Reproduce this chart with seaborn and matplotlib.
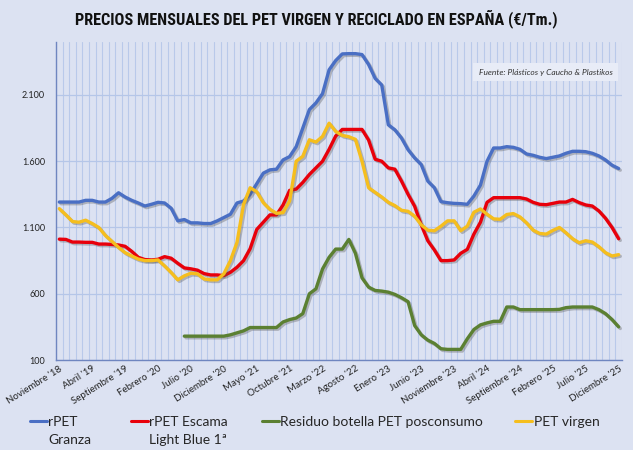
import numpy as np
import pandas as pd
import matplotlib
matplotlib.use("Agg")
import matplotlib.pyplot as plt
import matplotlib.patheffects as pe
from matplotlib.lines import Line2D
from matplotlib.ticker import FuncFormatter
import seaborn as sns

# etiquetas del eje X (cada 5 meses, desde Nov '18 hasta Dic '25)
etiquetas = ["Noviembre '18", "Abril '19", "Septiembre '19", "Febrero '20", "Julio '20",
             "Diciembre '20", "Mayo '21", "Octubre '21", "Marzo '22", "Agosto '22",
             "Enero '23", "Junio '23", "Noviembre '23", "Abril '24", "Septiembre '24",
             "Febrero '25", "Julio '25", "Diciembre '25"]

# precios mensuales (€/Tm), Nov '18 ... Dic '25
granza = [1292, 1292, 1292, 1292, 1305, 1305, 1292, 1292, 1320, 1362, 1330, 1305, 1285, 1262, 1275, 1290,
          1285, 1245, 1150, 1160, 1135, 1135,
          1130, 1130, 1150, 1175, 1200, 1285, 1300, 1350, 1430, 1510, 1535, 1540, 1610, 1635, 1710, 1850,
          1990, 2040, 2110, 2290, 2360, 2410,
          2412, 2412, 2405, 2330, 2225, 2175, 1875, 1837, 1775, 1687, 1625, 1575, 1450, 1400, 1295, 1287,
          1282, 1280, 1275, 1337, 1420, 1600,
          1700, 1700, 1710, 1705, 1690, 1655, 1645, 1630, 1620, 1630, 1640, 1660, 1675, 1675, 1672, 1660,
          1640, 1610, 1570, 1545]

escama = [1012, 1010, 990, 990, 988, 988, 975, 975, 972, 968, 958, 920, 875, 858, 855, 860,
          880, 868, 830, 795, 788, 778,
          752, 742, 742, 737, 762, 800, 850, 940, 1085, 1140, 1195, 1195, 1270, 1380, 1390, 1440,
          1500, 1550, 1600, 1690, 1790, 1840,
          1840, 1840, 1840, 1760, 1615, 1600, 1550, 1540, 1450, 1350, 1260, 1120, 1000, 930, 850, 850,
          855, 905, 935, 1050, 1140, 1290,
          1325, 1325, 1325, 1325, 1325, 1315, 1290, 1275, 1272, 1282, 1292, 1292, 1312, 1288, 1270, 1262,
          1225, 1170, 1100, 1015]

residuo = [np.nan] * 19 + [
          280, 280, 280, 280, 280, 280, 280, 290, 305, 320, 345, 345, 345, 345, 345, 387,
          405, 417, 450, 600, 637, 787, 875, 937, 937,
          1010, 905, 720, 650, 625, 620, 612, 595, 570, 540, 360, 290, 250, 225, 185, 180,
          180, 180, 260, 330, 365, 380,
          392, 392, 500, 500, 480, 480, 480, 480, 480, 480, 482, 495, 500, 500, 500, 500,
          480, 450, 405, 350]

virgen = [1242, 1195, 1145, 1140, 1155, 1130, 1100, 1040, 995, 950, 910, 885, 862, 850, 850, 855,
          810, 760, 705, 735, 755, 750,
          712, 705, 705, 750, 850, 987, 1275, 1400, 1370, 1287, 1237, 1207, 1212, 1300, 1600, 1637,
          1762, 1745, 1787, 1887, 1825, 1795,
          1785, 1765, 1600, 1400, 1365, 1330, 1290, 1265, 1230, 1222, 1185, 1120, 1080, 1075, 1110, 1150,
          1150, 1075, 1110, 1215, 1240, 1200,
          1165, 1162, 1198, 1205, 1180, 1135, 1080, 1055, 1050, 1078, 1100, 1060, 1015, 985, 1000, 990,
          955, 910, 885, 895]

nombres = ["rPET", "rPET Escama", "Residuo botella PET posconsumo", "PET virgen"]
segunda_linea = ["Granza", "Light Blue 1ª", "", ""]
valores = [granza, escama, residuo, virgen]
colores = ["#4A6FC4", "#E8000B", "#5B8032", "#F5BE1E"]

n = len(granza)
df = pd.concat([pd.DataFrame({"mes": np.arange(n), "precio": v, "serie": k + " " + s})
                for k, s, v in zip(nombres, segunda_linea, valores)], ignore_index=True)

fondo = "#DCE2F2"
sns.set_theme(style="white")
plt.rcParams["font.family"] = ["Lato", "DejaVu Sans"]

fig = plt.figure(figsize=(6.33, 4.5), dpi=100, facecolor=fondo)
ax = fig.add_axes([0.0885, 0.2, 0.894, 0.7067])
ax.set_facecolor(fondo)

sombra = [pe.SimpleLineShadow(offset=(1.2, -1.2), shadow_color="#555555", alpha=0.35),
          pe.Normal()]
sns.lineplot(data=df, x="mes", y="precio", hue="serie", palette=colores,
             estimator=None, sort=False, linewidth=2.4, legend=False,
             path_effects=sombra, ax=ax)

ax.set_xlim(-0.5, n - 0.5)
ax.set_ylim(100, 2500)
ax.set_yticks(np.arange(100, 2101, 500))
ax.yaxis.set_major_formatter(FuncFormatter(lambda v, p: f"{int(v):,}".replace(",", ".")))
ax.set_xticks(np.arange(0, n, 5))
ax.set_xticklabels(etiquetas, rotation=32, ha="right", va="top", rotation_mode="anchor")
ax.set_xticks(np.arange(-0.5, n, 1), minor=True)
ax.tick_params(axis="x", which="both", length=0, labelsize=7, pad=3, colors="#222222")
ax.tick_params(axis="y", length=0, labelsize=6.5, pad=8, colors="#222222")
ax.set_xlabel("")
ax.set_ylabel("")

ax.grid(False)
ax.grid(axis="x", which="minor", color="#B9C9EA", linewidth=0.8)
ax.grid(axis="y", which="major", color="#B5C6E8", linewidth=0.9)
ax.set_axisbelow(True)
for s in ["top", "right"]:
    ax.spines[s].set_visible(False)
for s in ["left", "bottom"]:
    ax.spines[s].set_color("#6F86C0")
    ax.spines[s].set_linewidth(1.0)

fig.text(0.5, 0.958, "PRECIOS MENSUALES DEL PET VIRGEN Y RECICLADO EN ESPAÑA (€/Tm.)",
         ha="center", va="center", fontsize=11.7, fontweight="bold", color="#111111",
         family=["Liberation Sans Narrow", "Roboto Condensed", "Liberation Sans", "DejaVu Sans"])

fig.text(0.968, 0.84, "Fuente: Plásticos y Caucho & Plastikos", ha="right", va="center",
         fontsize=6, style="italic", color="#333333",
         bbox=dict(facecolor="#E8ECF7", edgecolor="none", pad=4))

# leyenda: una por serie, con la segunda línea del nombre debajo
pos_x = [0.047, 0.207, 0.414, 0.814]
for nombre, extra, c, x0 in zip(nombres, segunda_linea, colores, pos_x):
    leg = fig.legend([Line2D([], [], color=c, linewidth=2.2)], [nombre], loc="center left",
                     bbox_to_anchor=(x0, 0.062), frameon=False, fontsize=10,
                     handlelength=1.22, handletextpad=0.1, borderpad=0, borderaxespad=0)
    if extra:
        fig.canvas.draw()
        bb = leg.get_texts()[0].get_window_extent()
        fig.text(bb.x0 / fig.bbox.width, 0.022, extra, ha="left", va="center", fontsize=10)

fig.savefig("out.png", dpi=100, facecolor=fondo)
